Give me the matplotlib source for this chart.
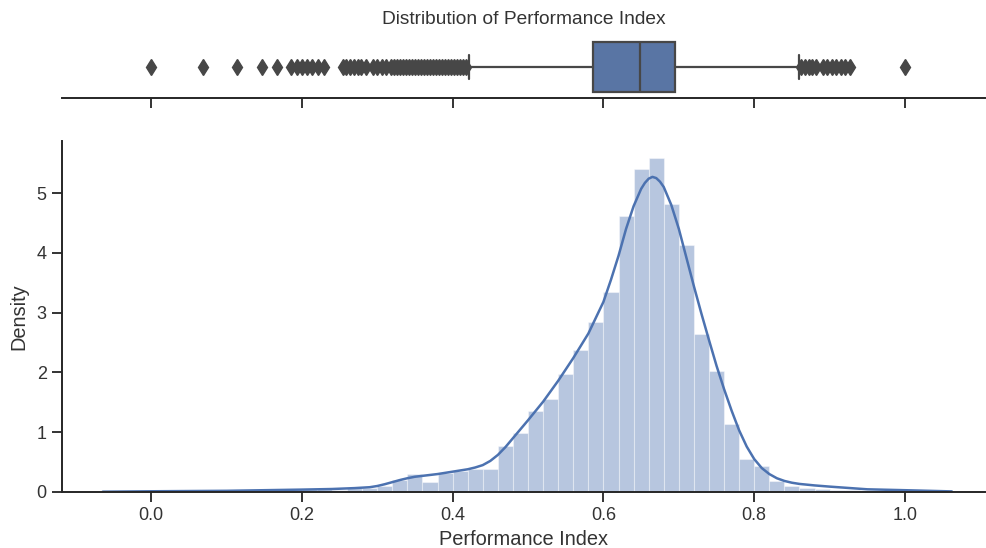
import numpy as np
import matplotlib
matplotlib.use("Agg")
import matplotlib.pyplot as plt
import seaborn as sns

# Histogram of the performance index: 50 bins of width 0.02 over [0, 1], density scale
bin_edges = np.round(np.arange(0.0, 1.0001, 0.02), 2)
bin_density = [
    0.03, 0.00, 0.00, 0.03, 0.00, 0.03, 0.00, 0.03, 0.03, 0.05,
    0.05, 0.05, 0.04, 0.07, 0.07, 0.10, 0.20, 0.30, 0.16, 0.31,
    0.35, 0.38, 0.38, 0.77, 0.99, 1.35, 1.55, 1.97, 2.37, 2.85,
    3.35, 4.62, 5.41, 5.59, 4.81, 4.13, 2.65, 2.03, 1.14, 0.55,
    0.43, 0.18, 0.10, 0.06, 0.05, 0.04, 0.03, 0.00, 0.00, 0.03,
]

# Kernel density estimate
kde_x = [-0.064, 0.0, 0.1, 0.2, 0.24, 0.27, 0.29, 0.30, 0.31, 0.32, 0.33, 0.34,
         0.35, 0.36, 0.38, 0.40, 0.42, 0.43, 0.44, 0.45, 0.46, 0.47, 0.48, 0.50,
         0.52, 0.54, 0.56, 0.58, 0.60, 0.61, 0.62, 0.63, 0.64, 0.65, 0.655, 0.66,
         0.665, 0.67, 0.675, 0.68, 0.69, 0.70, 0.71, 0.72, 0.73, 0.74, 0.75, 0.76,
         0.77, 0.78, 0.79, 0.80, 0.81, 0.82, 0.83, 0.84, 0.85, 0.86, 0.88, 0.90,
         0.95, 1.00, 1.062]
kde_y = [0.005, 0.012, 0.02, 0.04, 0.05, 0.065, 0.08, 0.10, 0.13, 0.165, 0.20, 0.23,
         0.255, 0.27, 0.30, 0.34, 0.38, 0.41, 0.45, 0.52, 0.62, 0.75, 0.90, 1.20,
         1.51, 1.86, 2.24, 2.65, 3.18, 3.55, 3.95, 4.40, 4.78, 5.07, 5.17, 5.24,
         5.27, 5.25, 5.19, 5.10, 4.80, 4.40, 3.92, 3.44, 2.98, 2.54, 2.11, 1.72,
         1.36, 1.03, 0.76, 0.55, 0.40, 0.30, 0.23, 0.185, 0.155, 0.135, 0.11, 0.09,
         0.045, 0.03, 0.01]

# Box plot summary
box_q1, box_median, box_q3 = 0.586, 0.6485, 0.695
whisker_low, whisker_high = 0.422, 0.859
outliers = [
    0.0, 0.069, 0.114, 0.147, 0.167, 0.186, 0.193, 0.200, 0.207, 0.214, 0.222,
    0.230, 0.254, 0.259, 0.264, 0.269, 0.274, 0.279, 0.285, 0.295, 0.300, 0.306,
    0.312, 0.318, 0.322, 0.326, 0.330, 0.334, 0.338, 0.342, 0.346, 0.350, 0.354,
    0.358, 0.362, 0.366, 0.370, 0.374, 0.378, 0.382, 0.386, 0.390, 0.394, 0.398,
    0.402, 0.406, 0.410, 0.414, 0.418,
    0.862, 0.867, 0.872, 0.877, 0.882, 0.891, 0.897, 0.903, 0.909, 0.915, 0.921,
    0.927, 1.0,
]

xticks = [0.0, 0.2, 0.4, 0.6, 0.8, 1.0]
yticks = [0, 1, 2, 3, 4, 5]

BLUE = '#4c72b0'
BOX_FACE = '#5975a4'
GRAY = '#474747'

sns.set_theme(style='ticks')
plt.rcParams['font.family'] = ['Liberation Sans', 'DejaVu Sans']
plt.rcParams['text.color'] = '#333333'
plt.rcParams['axes.labelcolor'] = '#333333'
plt.rcParams['xtick.color'] = '#333333'
plt.rcParams['ytick.color'] = '#333333'

W, H = 986, 548
fig = plt.figure(figsize=(W / 100, H / 100), dpi=100)
ax_box = fig.add_axes([62 / W, (H - 98) / H, 923 / W, 62 / H])
ax_hist = fig.add_axes([62 / W, (H - 492) / H, 923 / W, 351 / H], sharex=ax_box)

# Top: horizontal box plot
stats = [dict(med=box_median, q1=box_q1, q3=box_q3,
              whislo=whisker_low, whishi=whisker_high, fliers=outliers)]
ax_box.bxp(stats, positions=[0], widths=0.8, vert=False, patch_artist=True,
           boxprops=dict(facecolor=BOX_FACE, edgecolor=GRAY, linewidth=1.6),
           medianprops=dict(color=GRAY, linewidth=1.6),
           whiskerprops=dict(color=GRAY, linewidth=1.6),
           capprops=dict(color=GRAY, linewidth=1.6),
           flierprops=dict(marker='d', markerfacecolor=GRAY, markeredgecolor=GRAY,
                           markersize=8, linestyle='none'))
ax_box.set_ylim(0.5, -0.5)
ax_box.set_yticks([])
ax_box.tick_params(axis='x', labelbottom=False, length=7, width=1.4)
for side in ['left', 'top', 'right']:
    ax_box.spines[side].set_visible(False)
ax_box.spines['bottom'].set_linewidth(1.4)
ax_box.set_title('Distribution of Performance Index', fontsize=13.8, pad=9)

# Bottom: histogram with density curve
ax_hist.bar(bin_edges[:-1], bin_density, width=0.02, align='edge',
            color=BLUE, alpha=0.4, edgecolor='white', linewidth=0.8)
ax_hist.plot(kde_x, kde_y, color=BLUE, linewidth=1.8)
ax_hist.set_xlim(-0.118, 1.106)
ax_hist.set_ylim(0, 5.87)
ax_hist.set_xticks(xticks)
ax_hist.set_yticks(yticks)
ax_hist.set_xlabel('Performance Index', fontsize=14.4, labelpad=4)
ax_hist.set_ylabel('Density', fontsize=14.4, labelpad=6)
ax_hist.tick_params(labelsize=13, length=7, width=1.4, pad=4)
for side in ['left', 'bottom']:
    ax_hist.spines[side].set_linewidth(1.4)
sns.despine(ax=ax_hist)

fig.savefig('out.png', dpi=100)
